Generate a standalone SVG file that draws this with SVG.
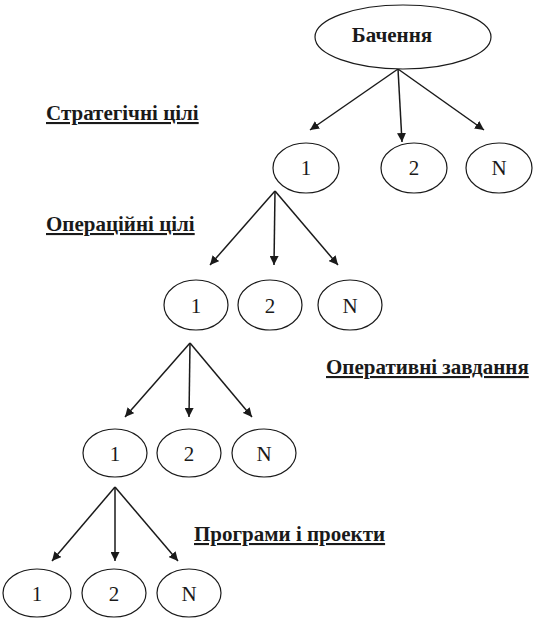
<svg xmlns="http://www.w3.org/2000/svg" width="534" height="618" viewBox="0 0 534 618">
  <style>
    .node ellipse { fill: #ffffff; stroke: #1a1a1a; stroke-width: 1.2; }
    .num { font-family: "Liberation Serif", "Times New Roman", serif; font-size: 21px; fill: #1a1a1a; text-anchor: middle; }
    .title { font-family: "Liberation Serif", "Times New Roman", serif; font-size: 21px; font-weight: bold; fill: #1a1a1a; text-anchor: middle; }
    .level { font-family: "Liberation Serif", "Times New Roman", serif; font-size: 21px; font-weight: bold; fill: #1a1a1a; text-decoration: underline; }
    .edges line { stroke: #1a1a1a; stroke-width: 1.5; marker-end: url(#arrow); }
  </style>
  <defs>
    <marker id="arrow" viewBox="0 0 10 10" refX="10" refY="5" markerWidth="9" markerHeight="9" markerUnits="userSpaceOnUse" orient="auto">
      <path d="M0,0 L10,5 L0,10 z" fill="#1a1a1a"/>
    </marker>
  </defs>
  <rect width="534" height="618" fill="#ffffff"/>

  <!-- level captions -->
  <g id="captions">
    <text class="level" x="46" y="120">Стратегічні цілі</text>
    <text class="level" x="46" y="231">Операційні цілі</text>
    <text class="level" x="326" y="374">Оперативні завдання</text>
    <text class="level" x="194" y="541">Програми і проекти</text>
  </g>

  <!-- connectors -->
  <g class="edges" id="edges">
    <line x1="398" y1="69" x2="310" y2="130"/>
    <line x1="398" y1="69" x2="402" y2="142"/>
    <line x1="398" y1="69" x2="484" y2="130"/>

    <line x1="275" y1="191" x2="210" y2="265"/>
    <line x1="275" y1="191" x2="274" y2="265"/>
    <line x1="275" y1="191" x2="338" y2="265"/>

    <line x1="190" y1="343" x2="125" y2="417"/>
    <line x1="190" y1="343" x2="189" y2="417"/>
    <line x1="190" y1="343" x2="252" y2="417"/>

    <line x1="115" y1="487" x2="52" y2="561"/>
    <line x1="115" y1="487" x2="115" y2="561"/>
    <line x1="115" y1="487" x2="178" y2="561"/>
  </g>

  <!-- root -->
  <g class="node" id="vision">
    <ellipse cx="403" cy="37" rx="88" ry="32"/>
    <text class="title" x="392" y="42">Бачення</text>
  </g>

  <!-- strategic goals -->
  <g class="node" id="s1"><ellipse cx="306" cy="168" rx="33" ry="25"/><text class="num" x="306" y="175">1</text></g>
  <g class="node" id="s2"><ellipse cx="414" cy="168" rx="33" ry="25"/><text class="num" x="414" y="175">2</text></g>
  <g class="node" id="sN"><ellipse cx="499" cy="168" rx="33" ry="25"/><text class="num" x="499" y="175">N</text></g>

  <!-- operational goals -->
  <g class="node" id="o1"><ellipse cx="196" cy="305" rx="32" ry="25"/><text class="num" x="196" y="313">1</text></g>
  <g class="node" id="o2"><ellipse cx="270" cy="305" rx="32" ry="25"/><text class="num" x="270" y="313">2</text></g>
  <g class="node" id="oN"><ellipse cx="350" cy="305" rx="32" ry="25"/><text class="num" x="350" y="313">N</text></g>

  <!-- operative tasks -->
  <g class="node" id="t1"><ellipse cx="115" cy="453" rx="32" ry="24"/><text class="num" x="115" y="461">1</text></g>
  <g class="node" id="t2"><ellipse cx="189" cy="453" rx="32" ry="24"/><text class="num" x="189" y="461">2</text></g>
  <g class="node" id="tN"><ellipse cx="264" cy="453" rx="32" ry="24"/><text class="num" x="264" y="461">N</text></g>

  <!-- programmes and projects -->
  <g class="node" id="p1"><ellipse cx="37" cy="593" rx="34" ry="24"/><text class="num" x="37" y="601">1</text></g>
  <g class="node" id="p2"><ellipse cx="114" cy="593" rx="32" ry="24"/><text class="num" x="114" y="601">2</text></g>
  <g class="node" id="pN"><ellipse cx="189" cy="593" rx="32" ry="24"/><text class="num" x="189" y="601">N</text></g>
</svg>
